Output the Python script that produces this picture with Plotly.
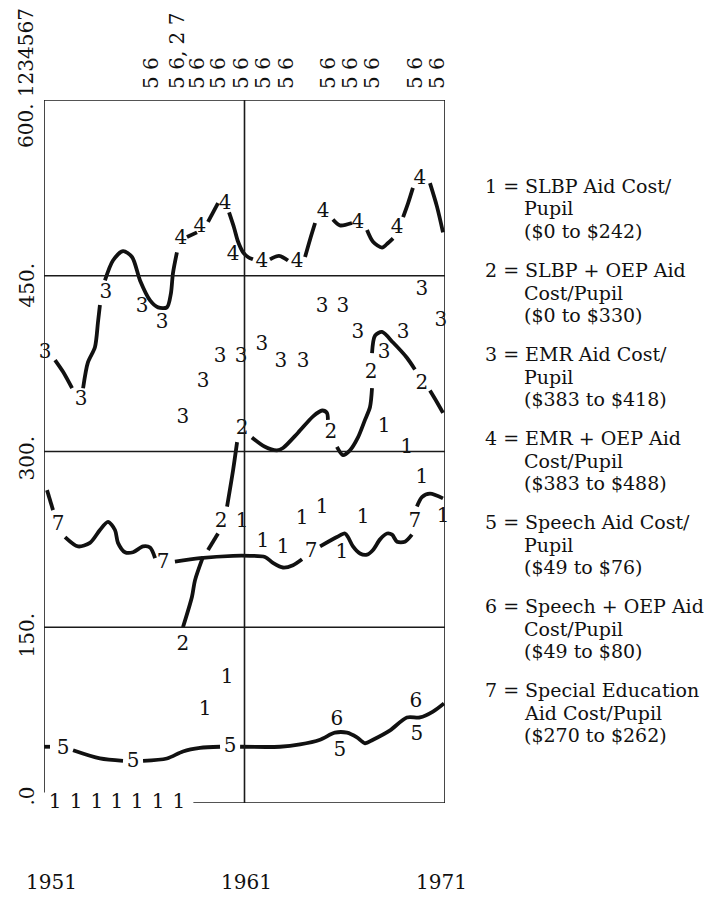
import plotly.graph_objects as go

# ---------------- data (years, values) ----------------
# Series 1 : SLBP Aid Cost/Pupil  (printed digit "1")
s1_label_years = [1951.55, 1952.60, 1953.64, 1954.64, 1955.64, 1956.69, 1957.73,
                  1959.03, 1960.13, 1960.88, 1961.92, 1962.92, 1963.87, 1964.87,
                  1965.86, 1966.91, 1967.96, 1969.10, 1969.85, 1970.90]
s1_label_values = [0, 0, 0, 0, 0, 0, 0,
                   79, 107, 240, 223, 218, 242, 252,
                   213, 243, 321, 303, 277, 244]

# Series 2 : SLBP + OEP Aid Cost/Pupil
s2_label_years = [1957.93, 1959.83, 1960.88, 1965.31, 1967.31, 1969.85]
s2_label_values = [135, 240, 319, 316, 367, 358]
s2_curve_years = [1957.93, 1958.38, 1958.53, 1958.93, None,
                  1959.18, 1959.68, None,
                  1960.13, 1960.43, 1960.63, None,
                  1961.37, 1962.02, 1962.62, 1962.92, 1963.67, 1964.42, 1964.87, 1965.11, 1965.16, None,
                  1965.61, 1965.91, 1966.26, 1966.66, 1967.01, 1967.26, 1967.36, None,
                  1967.36, 1967.51, 1967.86, 1968.41, 1969.10, 1969.50, None,
                  1970.25, 1970.60, 1970.90]
s2_curve_values = [150, 176, 190, 210, None,
                   216, 230, None,
                   253, 284, 308, None,
                   312, 304, 301, 303, 316, 330, 335, 333, 327, None,
                   304, 297, 301, 312, 327, 338, 354, None,
                   384, 399, 402, 393, 380, 370, None,
                   352, 342, 333]

# Series 3 : EMR Aid Cost/Pupil
s3_label_years = [1951.05, 1952.85, 1954.09, 1955.89, 1956.89, 1957.93, 1958.93,
                  1959.78, 1960.83, 1961.87, 1962.82, 1963.92, 1964.87, 1965.91,
                  1966.66, 1967.96, 1968.91, 1969.85, 1970.80]
s3_label_values = [384, 344, 435, 423, 410, 329, 359,
                   381, 381, 391, 376, 376, 423, 423,
                   401, 384, 401, 438, 411]
s3_curve_years = [1951.55, 1951.95, 1952.40, None,
                  1952.95, 1953.19, 1953.54, 1953.69, 1953.79, None,
                  1954.04, 1954.44, 1954.94, 1955.39, 1955.79, 1956.29, 1956.69,
                  1957.13, 1957.33, 1957.43, 1957.63]
s3_curve_values = [378, 368, 354, None,
                   354, 376, 389, 410, 425, None,
                   446, 463, 471, 466, 446, 429, 423,
                   423, 435, 452, 470]

# Series 4 : EMR + OEP Aid Cost/Pupil
s4_label_years = [1957.83, 1958.78, 1960.03, 1960.43, 1961.87, 1963.62,
                  1964.92, 1966.66, 1968.61, 1969.75]
s4_label_values = [481, 492, 511, 468, 462, 462, 504, 495, 491, 533]
s4_curve_years = [1958.13, 1958.63, None,
                  1959.18, 1959.68, None,
                  1960.23, 1960.48, 1960.68, 1960.93, 1961.17, 1961.42, None,
                  1962.27, 1962.72, 1963.17, None,
                  1964.02, 1964.27, 1964.52, None,
                  1965.41, 1965.76, 1966.36, None,
                  1967.11, 1967.41, 1967.86, 1968.16, 1968.41, None,
                  1968.91, 1969.16, 1969.40, None,
                  1970.25, 1970.60, 1970.90]
s4_curve_values = [483, 487, None,
                   496, 512, None,
                   504, 491, 479, 470, 466, 464, None,
                   464, 467, 463, None,
                   466, 481, 495, None,
                   498, 493, 495, None,
                   489, 479, 474, 478, 482, None,
                   500, 512, 525, None,
                   529, 509, 487]

# Series 5 : Speech Aid Cost/Pupil
s5_label_years = [1951.95, 1955.44, 1960.28, 1965.76, 1969.60]
s5_label_values = [46, 35, 48, 44, 58]
s5_curve_years = [1951.00, 1951.30, None,
                  1952.45, 1953.79, 1954.94, None,
                  1955.94, 1957.13, 1957.93, 1958.78, 1959.78, None,
                  1960.78, 1962.77, 1963.77, 1964.77, 1965.51, 1966.11, 1966.61,
                  1967.01, 1967.41, 1968.26, 1969.10, 1969.75, 1970.40, 1970.95]
s5_curve_values = [48, 48, None,
                   45, 38, 36, None,
                   36, 38, 44, 47, 48, None,
                   48, 48, 50, 54, 60, 60, 56,
                   51, 54, 62, 73, 73, 78, 85]

# Series 6 : Speech + OEP Aid Cost/Pupil
s6_label_years = [1965.61, 1969.55]
s6_label_values = [71, 86]

# Series 7 : Special Education Aid Cost/Pupil
s7_label_years = [1951.70, 1956.94, 1964.32, 1969.50]
s7_label_values = [237, 205, 214, 240]
s7_curve_years = [1951.15, 1951.45, None,
                  1952.05, 1952.70, 1953.29, 1953.79, 1954.19, 1954.54, 1954.69,
                  1955.04, 1955.44, 1955.94, 1956.29, 1956.54, None,
                  1957.53, 1958.78, 1960.43, 1961.27, 1962.02, 1962.42, 1962.92,
                  1963.42, 1963.87, None,
                  1964.77, 1965.61, 1966.01, 1966.16, 1966.41, 1966.76, 1967.11,
                  1967.41, 1967.76, 1968.11, 1968.36, 1968.61, 1969.00, 1969.35, None,
                  1969.60, 1969.85, 1970.25, 1970.90]
s7_curve_values = [267, 250, None,
                   227, 219, 222, 233, 240, 233, 222,
                   214, 214, 219, 218, 209, None,
                   206, 209, 211, 211, 210, 205, 201,
                   203, 208, None,
                   219, 227, 230, 227, 219, 213, 212,
                   216, 225, 230, 229, 223, 223, 229, None,
                   253, 261, 264, 260]

# Header marks printed above the frame (rotated)
top_mark_years = [1956.34, 1957.63, 1958.63, 1959.68, 1960.83, 1961.92,
                  1963.07, 1965.16, 1966.26, 1967.36, 1969.50, 1970.60]
top_mark_texts = ["5 6", "5 6, 2 7", "5 6", "5 6", "5 6", "5 6",
                  "5 6", "5 6", "5 6", "5 6", "5 6", "5 6"]

# Axis labels
y_tick_values = [600, 450, 300, 150, 0]
y_tick_texts = ["600. 1234567", "450.", "300.", "150.", ".0"]
x_tick_values = [1951, 1961, 1971]
x_tick_texts = ["1951", "1961", "1971"]
grid_values = [150, 300, 450]

legend_entries = [
    ["1 = SLBP Aid Cost/", "Pupil", "($0 to $242)"],
    ["2 = SLBP + OEP Aid", "Cost/Pupil", "($0 to $330)"],
    ["3 = EMR Aid Cost/", "Pupil", "($383 to $418)"],
    ["4 = EMR + OEP Aid", "Cost/Pupil", "($383 to $488)"],
    ["5 = Speech Aid Cost/", "Pupil", "($49 to $76)"],
    ["6 = Speech + OEP Aid", "Cost/Pupil", "($49 to $80)"],
    ["7 = Special Education", "Aid Cost/Pupil", "($270 to $262)"],
]

# ---------------- layout constants ----------------
W, H = 725, 898
L, R, T, B = 44, 445, 100, 803
FONT = "DejaVu Serif"
FS = 20
LEG_FS = 19
INK = "#111111"


def pxx(px):
    return (px - L) / (R - L)


def pxy(py):
    return (B - py) / (B - T)


fig = go.Figure()

curves = [
    (s2_curve_years, s2_curve_values),
    (s3_curve_years, s3_curve_values),
    (s4_curve_years, s4_curve_values),
    (s5_curve_years, s5_curve_values),
    (s7_curve_years, s7_curve_values),
]
for xs, ys in curves:
    fig.add_trace(go.Scatter(
        x=xs, y=ys, mode="lines",
        line=dict(color=INK, width=3.8, shape="spline", smoothing=0.8),
        connectgaps=False, hoverinfo="skip", showlegend=False,
        cliponaxis=False,
    ))

labels = [
    ("1", s1_label_years, s1_label_values),
    ("2", s2_label_years, s2_label_values),
    ("3", s3_label_years, s3_label_values),
    ("4", s4_label_years, s4_label_values),
    ("5", s5_label_years, s5_label_values),
    ("6", s6_label_years, s6_label_values),
    ("7", s7_label_years, s7_label_values),
]
for digit, xs, ys in labels:
    fig.add_trace(go.Scatter(
        x=xs, y=ys, mode="text", text=[digit] * len(xs),
        textposition="middle center",
        textfont=dict(family=FONT, size=FS, color=INK),
        hoverinfo="skip", showlegend=False, cliponaxis=False,
    ))

# frame and grid
shapes = []
line_style = dict(color="#1a1a1a", width=1.6)
shapes.append(dict(type="line", xref="x", yref="y", x0=1951, x1=1971, y0=600, y1=600, line=line_style))
shapes.append(dict(type="line", xref="x", yref="y", x0=1951, x1=1951, y0=600, y1=9, line=line_style))
shapes.append(dict(type="line", xref="x", yref="y", x0=1958.45, x1=1971, y0=0, y1=0, line=line_style))
shapes.append(dict(type="line", xref="x", yref="y", x0=1961, x1=1961, y0=600, y1=-10, line=line_style))
shapes.append(dict(type="line", xref="x", yref="y", x0=1971, x1=1971, y0=600, y1=-10, line=line_style))
for gv in grid_values:
    shapes.append(dict(type="line", xref="x", yref="y", x0=1951, x1=1971, y0=gv, y1=gv, line=line_style))

annotations = []
# y-axis labels (rotated), bottoms of text in pixel rows
y_label_bottom_px = [150, 310, 483, 660, 808]
for v, t, bpx in zip(y_tick_values, y_tick_texts, y_label_bottom_px):
    annotations.append(dict(
        xref="paper", yref="paper", x=pxx(26), y=pxy(bpx),
        text=t, textangle=-90, showarrow=False,
        xanchor="center", yanchor="bottom",
        font=dict(family=FONT, size=FS, color=INK),
    ))

# x-axis labels
x_label_shift = [7, 2, -4]
for v, t, s in zip(x_tick_values, x_tick_texts, x_label_shift):
    annotations.append(dict(
        xref="x", yref="paper", x=v, y=pxy(882), xshift=s,
        text=t, showarrow=False, xanchor="center", yanchor="middle",
        font=dict(family=FONT, size=FS, color=INK),
    ))

# header marks above the frame
for v, t in zip(top_mark_years, top_mark_texts):
    annotations.append(dict(
        xref="x", yref="paper", x=v, y=pxy(91),
        text=t, textangle=-90, showarrow=False,
        xanchor="center", yanchor="bottom",
        font=dict(family=FONT, size=FS, color=INK),
    ))

# legend text
first_line_px = 186
group_pitch = 84
line_pitch = 22.5
for k, entry in enumerate(legend_entries):
    for j, line in enumerate(entry):
        annotations.append(dict(
            xref="paper", yref="paper",
            x=pxx(484 if j == 0 else 523),
            y=pxy(first_line_px + k * group_pitch + j * line_pitch),
            text=line, showarrow=False, xanchor="left", yanchor="middle",
            borderpad=0,
            font=dict(family=FONT, size=LEG_FS, color=INK),
        ))

fig.update_layout(
    width=W, height=H,
    margin=dict(l=L, r=W - R, t=T, b=H - B, pad=0),
    paper_bgcolor="white", plot_bgcolor="white",
    xaxis=dict(range=[1951, 1971], visible=False, fixedrange=True),
    yaxis=dict(range=[0, 600], visible=False, fixedrange=True),
    shapes=shapes, annotations=annotations,
    showlegend=False,
)

fig.write_html("out.html")
